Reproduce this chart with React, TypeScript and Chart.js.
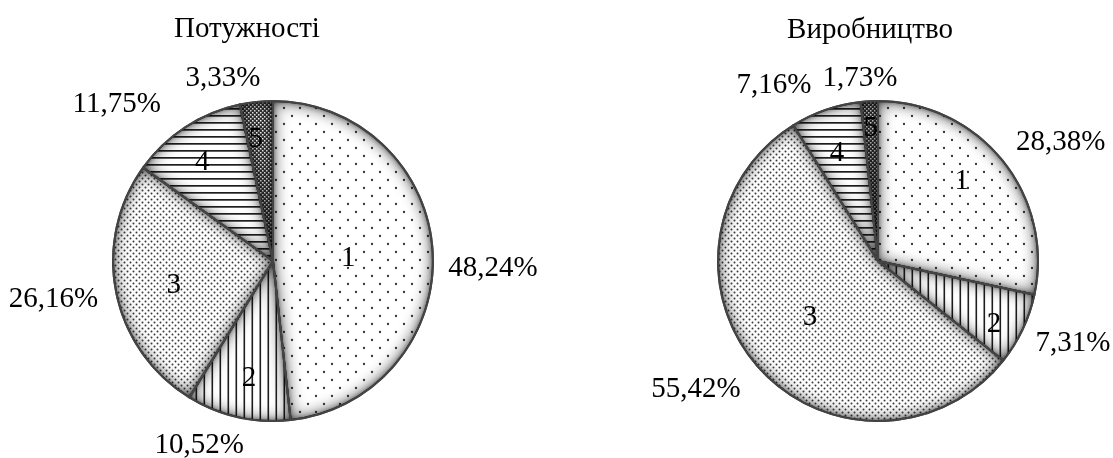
import React, { useEffect, useRef } from "react";
import { Chart, registerables } from "chart.js";

Chart.register(...registerables);

// ---------- data ----------
const sliceNames = ["1", "2", "3", "4", "5"];
const capacityShares = [48.24, 10.52, 26.16, 11.75, 3.33];
const productionShares = [28.38, 7.31, 55.42, 7.16, 1.73];
const capacityTitle = "Потужності";
const productionTitle = "Виробництво";

// ---------- label placement (angle nudge in degrees, radius factor) ----------
const capacityInnerPlace = [[0.9, 0.47], [-1.1, 0.75], [-2.6, 0.64], [-2.5, 0.76], [-2, 0.77]];
const capacityOuterPlace = [[5.2, 1.375], [9.2, 1.244], [1.4, 1.394], [-11.9, 1.381], [-9.4, 1.181]];
const productionInnerPlace = [[-4.5, 0.72], [3.2, 0.825], [2.3, 0.55], [-1.7, 0.72], [0, 0.83]];
const productionOuterPlace = [[5.9, 1.3625], [-2.5, 1.322], [6.5, 1.394], [-11.5, 1.2775], [-2.5, 1.149]];

const FONT = '29px "Liberation Serif", "Times New Roman", serif';

function tile(size: number, draw: (c: CanvasRenderingContext2D) => void) {
  const c = document.createElement("canvas");
  c.width = size;
  c.height = size;
  const g = c.getContext("2d")!;
  g.fillStyle = "#ffffff";
  g.fillRect(0, 0, size, size);
  draw(g);
  return c;
}

function makePatterns(ctx: CanvasRenderingContext2D) {
  const dot = (g: CanvasRenderingContext2D, x: number, y: number, r: number) => {
    g.beginPath();
    g.arc(x, y, r, 0, Math.PI * 2);
    g.fill();
  };
  const sparse = tile(16, (g) => {
    g.fillStyle = "#333";
    dot(g, 4, 4, 1.15);
    dot(g, 12, 12, 1.15);
  });
  const vlines = tile(8, (g) => {
    g.fillStyle = "#1e1e1e";
    g.fillRect(3.5, 0, 1.6, 8);
  });
  const dense = tile(6, (g) => {
    g.fillStyle = "#3a3a3a";
    dot(g, 1.5, 1.5, 1.0);
    dot(g, 4.5, 4.5, 1.0);
  });
  const hlines = tile(7, (g) => {
    g.fillStyle = "#1e1e1e";
    g.fillRect(0, 3, 7, 1.7);
  });
  const check = tile(4, (g) => {
    g.fillStyle = "#333";
    g.fillRect(0, 0, 4, 4);
    g.fillStyle = "#ffffff";
    g.fillRect(0, 0, 1.5, 1.5);
    g.fillRect(2, 2, 1.5, 1.5);
  });
  return [sparse, vlines, dense, hlines, check].map((c) => ctx.createPattern(c, "repeat")!);
}

function fmtPct(v: number) {
  return v.toFixed(2).replace(".", ",") + "%";
}

function makeDecor(innerPlace: number[][], outerPlace: number[][]) {
  return {
    id: "pieDecor",
    afterDatasetsDraw(chart: any) {
      const ctx: CanvasRenderingContext2D = chart.ctx;
      const meta = chart.getDatasetMeta(0);
      const values: number[] = chart.data.datasets[0].data;
      const arcs = meta.data.map((a: any) =>
        a.getProps(["x", "y", "startAngle", "endAngle", "outerRadius"], true)
      );
      const slicePath = (p: any) => {
        ctx.moveTo(p.x, p.y);
        ctx.arc(p.x, p.y, p.outerRadius, p.startAngle, p.endAngle);
        ctx.closePath();
      };
      // inner shadow per slice (two passes: soft wide + tight dark)
      const passes: [string, number][] = [
        ["rgba(0,0,0,0.75)", 16],
        ["rgba(0,0,0,0.55)", 5],
      ];
      arcs.forEach((p: any) => {
        passes.forEach(([col, blur]) => {
          ctx.save();
          ctx.beginPath();
          slicePath(p);
          ctx.clip();
          ctx.beginPath();
          ctx.rect(p.x - 2000, p.y - 2000, 4000, 4000);
          slicePath(p);
          ctx.shadowColor = col;
          ctx.shadowBlur = blur;
          ctx.fillStyle = "#000";
          ctx.fill("evenodd");
          ctx.restore();
        });
      });
      // borders
      ctx.save();
      ctx.strokeStyle = "#444";
      ctx.lineWidth = 2;
      ctx.lineJoin = "round";
      arcs.forEach((p: any) => {
        ctx.beginPath();
        slicePath(p);
        ctx.stroke();
      });
      ctx.restore();
      // labels
      ctx.save();
      ctx.font = FONT;
      ctx.fillStyle = "#000";
      ctx.textAlign = "center";
      ctx.textBaseline = "middle";
      arcs.forEach((p: any, i: number) => {
        const mid = (p.startAngle + p.endAngle) / 2;
        const [da1, f1] = innerPlace[i];
        const a1 = mid + (da1 * Math.PI) / 180;
        ctx.fillText(
          chart.data.labels[i],
          p.x + Math.cos(a1) * p.outerRadius * f1,
          p.y + Math.sin(a1) * p.outerRadius * f1
        );
        const [da2, f2] = outerPlace[i];
        const a2 = mid + (da2 * Math.PI) / 180;
        ctx.fillText(
          fmtPct(values[i]),
          p.x + Math.cos(a2) * p.outerRadius * f2,
          p.y + Math.sin(a2) * p.outerRadius * f2
        );
      });
      ctx.restore();
    },
  };
}

type PieProps = {
  values: number[];
  innerPlace: number[][];
  outerPlace: number[][];
  left: number;
  width: number;
  padL: number;
  padR: number;
};

function PieChart({ values, innerPlace, outerPlace, left, width, padL, padR }: PieProps) {
  const ref = useRef<HTMLCanvasElement | null>(null);
  useEffect(() => {
    const canvas = ref.current!;
    const ctx = canvas.getContext("2d")!;
    const patterns = makePatterns(ctx);
    const chart = new Chart(canvas, {
      type: "pie",
      data: {
        labels: sliceNames,
        datasets: [
          {
            data: values,
            backgroundColor: patterns as any,
            borderColor: "#444",
            borderWidth: 2,
            hoverOffset: 0,
            hoverBorderWidth: 2,
          } as any,
        ],
      },
      options: {
        responsive: false,
        animation: false,
        events: [],
        layout: { padding: { left: padL, right: padR, top: 100, bottom: 36 } },
        plugins: {
          legend: { display: false },
          tooltip: { enabled: false },
          title: { display: false },
        },
      },
      plugins: [makeDecor(innerPlace, outerPlace) as any],
    });
    return () => chart.destroy();
  }, []);
  return (
    <canvas
      ref={ref}
      width={width}
      height={458}
      style={{ position: "absolute", left, top: 0, width, height: 458 }}
    />
  );
}

const titleStyle = (cx: number, top: number): React.CSSProperties => ({
  position: "absolute",
  left: cx - 200,
  top,
  width: 400,
  textAlign: "center",
  font: FONT,
  lineHeight: "29px",
  color: "#000",
  whiteSpace: "nowrap",
});

export default function App() {
  return (
    <div
      style={{
        position: "absolute",
        left: 0,
        top: 0,
        width: 1113,
        height: 458,
        overflow: "hidden",
        background: "#fff",
      }}
    >
      <PieChart
        values={capacityShares}
        innerPlace={capacityInnerPlace}
        outerPlace={capacityOuterPlace}
        left={0}
        width={556}
        padL={73}
        padR={83}
      />
      <PieChart
        values={productionShares}
        innerPlace={productionInnerPlace}
        outerPlace={productionOuterPlace}
        left={556}
        width={557}
        padL={122}
        padR={35}
      />
      <div style={titleStyle(247, 13)}>{capacityTitle}</div>
      <div style={titleStyle(870, 14)}>{productionTitle}</div>
    </div>
  );
}
